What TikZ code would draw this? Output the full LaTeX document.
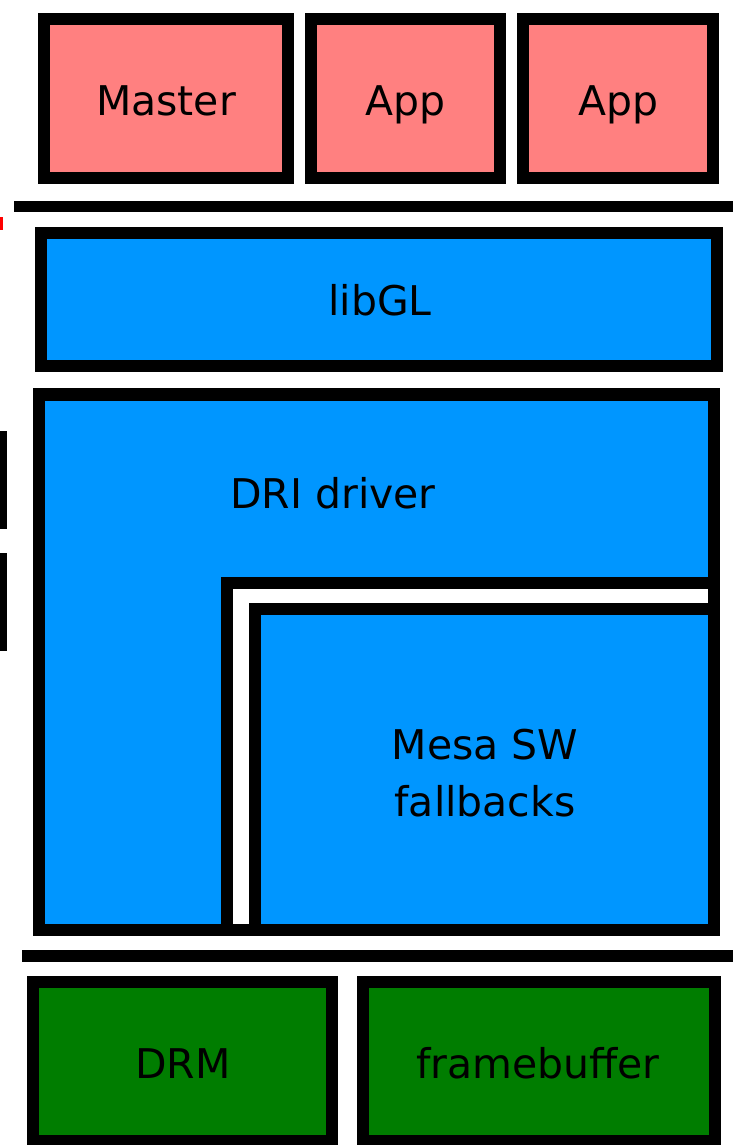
\documentclass[tikz,border=0pt]{standalone}
\usepackage{fontspec}
\setmainfont{DejaVu Sans}
\usepackage{tikz}

\definecolor{apppink}{RGB}{255,128,128}
\definecolor{glblue}{RGB}{0,150,255}
\definecolor{kgreen}{RGB}{0,125,0}

\begin{document}
\begin{tikzpicture}[x=0.02cm,y=-0.02cm]
   \tikzstyle{layer}=[draw=black, line width=0.25cm]
   \tikzstyle{lbl}=[font=\fontsize{23.3}{32}\selectfont, align=center, inner sep=0pt, anchor=base]
   \useasboundingbox (0,0) rectangle (733,1145);
   % edge marks
   \fill[red] (0,217) rectangle (3,230);
   \fill[black] (0,431) rectangle (7,529);
   \fill[black] (0,553) rectangle (7,651);
   % applications
   \draw[layer, fill=apppink] (44,19) rectangle (288,178);
   \node[lbl] (master) at (166,116) {Master};
   \foreach \i/\xa/\xb in {1/311/500,2/523/713} {
       \draw[layer, fill=apppink] (\xa,19) rectangle (\xb,178);
       \node[lbl] (app\i) at ({(\xa+\xb)/2},116) {App};
   }
   \coordinate (sepa) at (14,206.5);
   \coordinate (sepb) at (733,206.5);
   \draw[line width=0.22cm] (sepa) -- (sepb);
   % libGL
   \draw[layer, fill=glblue] (41,233) rectangle (717,366);
   \node[lbl] (libgl) at (380,316) {libGL};
   % DRI driver with Mesa inside
   \draw[layer, fill=glblue] (39,394.5) rectangle (714,930);
   \node[lbl] (dri) at (333,508) {DRI driver};
   \draw[layer, fill=white] (227,583) rectangle (714,930);
   \draw[layer, fill=glblue] (255,609) rectangle (714,930);
   \node[lbl] (mesa) at (485,816) {Mesa SW\\fallbacks};
   \coordinate (sepc) at (22,956);
   \coordinate (sepd) at (733,956);
   \draw[line width=0.24cm] (sepc) -- (sepd);
   % kernel
   \draw[layer, fill=kgreen] (33,982) rectangle (332,1141);
   \node[lbl] (drm) at (183,1078) {DRM};
   \draw[layer, fill=kgreen] (363,982) rectangle (715,1141);
   \node[lbl] (fb) at (538,1078) {framebuffer};
\end{tikzpicture}
\end{document}
